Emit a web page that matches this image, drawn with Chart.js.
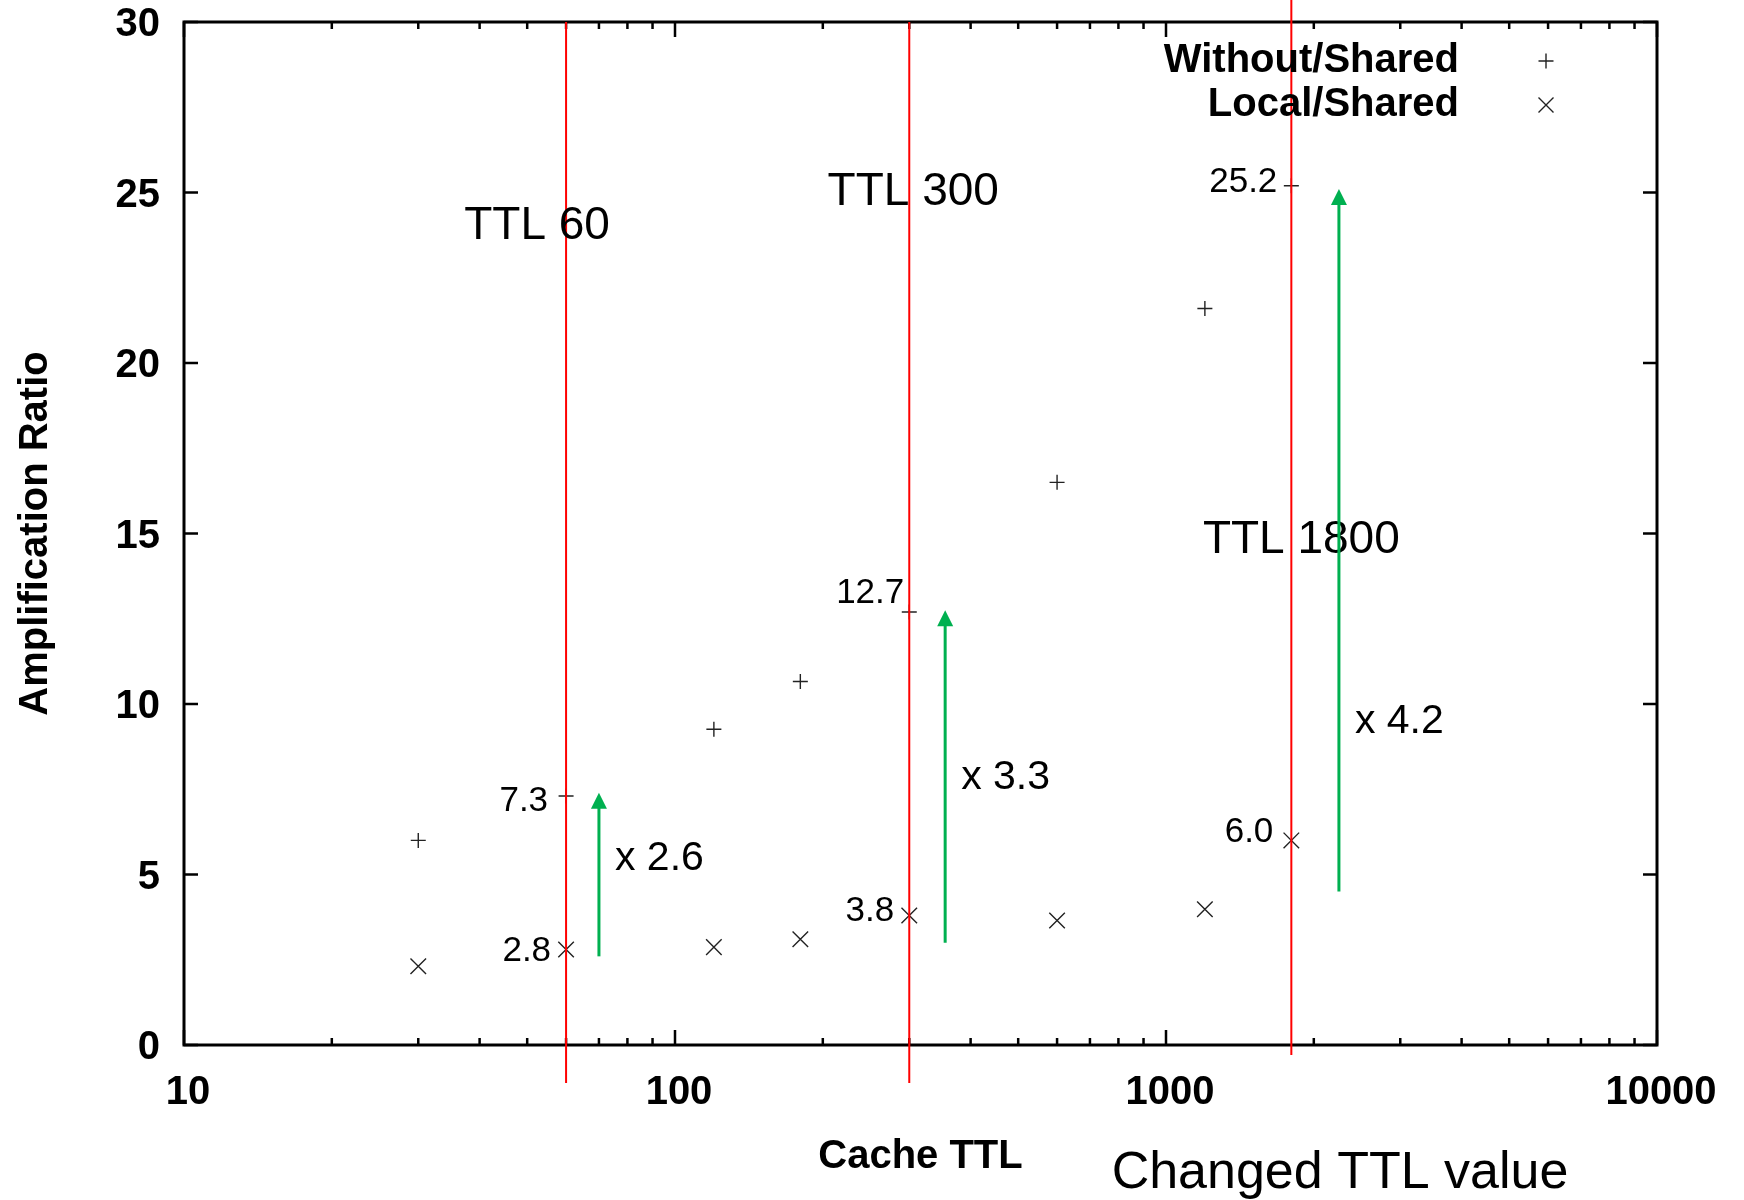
<!DOCTYPE html>
<html>
<head>
<meta charset="utf-8">
<title>Amplification Ratio vs Cache TTL</title>
<script src="https://cdn.jsdelivr.net/npm/chart.js@4.4.1/dist/chart.umd.min.js"></script>
<style>
  html, body { margin: 0; padding: 0; background: #fff; }
  #chart { display: block; }
</style>
</head>
<body>
<canvas id="chart" width="1744" height="1200"></canvas>
<script>
// Measured cache TTLs (seconds) and amplification ratios
const ttlValues = [30, 60, 120, 180, 300, 600, 1200, 1800];
const withoutShared = [6.0, 7.3, 9.26, 10.66, 12.7, 16.5, 21.6, 25.2];
const localShared = [2.31, 2.8, 2.87, 3.1, 3.8, 3.65, 3.98, 6.0];

// Axis ticks
const xTickValues = [10, 100, 1000, 10000];
const yTickValues = [0, 5, 10, 15, 20, 25, 30];

// TTL settings that were changed (red markers), with their labels
const changedTtls = [60, 300, 1800];
const changedLabels = ['TTL 60', 'TTL 300', 'TTL 1800'];
const changedLabelY = [24.0, 25.0, 14.8];

// Indices of points that get a value label
const labelledIdx = [1, 4, 7];

// Green arrows: x position and value range
const arrowX = [70, 355, 2250];
const arrowFrom = [2.6, 3.0, 4.5];
const arrowTo = [7.4, 12.75, 25.1];
const ratioLabelY = [5.45, 7.83, 9.49];

const FONT = "'Liberation Sans', Arial, Helvetica, sans-serif";
function font(size, bold) {
  return (bold ? 'bold ' : '') + size + 'px ' + FONT;
}

// label offsets (px) from the marker, same order as labelledIdx
const withoutLabelOffset = [[-18, 5], [-5, -19], [-14, -3]];
const localLabelOffset = [[-15, 2], [-15, -4], [-18, -8]];
const ttlLabelOffset = [-29, 4, 10];

const overlay = {
  id: 'overlay',
  afterDraw(chart) {
    const { ctx, chartArea: a, scales: { x, y } } = chart;
    ctx.save();

    // frame
    ctx.strokeStyle = '#000';
    ctx.lineWidth = 3;
    ctx.strokeRect(a.left, a.top, a.right - a.left, a.bottom - a.top);

    // inward tick marks
    ctx.lineWidth = 2.5;
    ctx.beginPath();
    yTickValues.forEach(v => {
      const py = y.getPixelForValue(v);
      ctx.moveTo(a.left, py); ctx.lineTo(a.left + 14, py);
      ctx.moveTo(a.right, py); ctx.lineTo(a.right - 14, py);
    });
    for (let d = 10; d <= 10000; d *= 10) {
      for (let m = 1; m <= (d === 10000 ? 1 : 9); m++) {
        const px = x.getPixelForValue(d * m);
        const len = m === 1 ? 15 : 7;
        ctx.moveTo(px, a.bottom); ctx.lineTo(px, a.bottom - len);
        ctx.moveTo(px, a.top); ctx.lineTo(px, a.top + len);
      }
    }
    ctx.stroke();

    // changed-TTL markers
    ctx.strokeStyle = '#ff0000';
    ctx.lineWidth = 2;
    changedTtls.forEach((t, i) => {
      const px = x.getPixelForValue(t);
      const top = i === 2 ? 0 : a.top;
      const bottom = i === 2 ? a.bottom + 10 : a.bottom + 38;
      ctx.beginPath();
      ctx.moveTo(px, top);
      ctx.lineTo(px, bottom);
      ctx.stroke();
    });

    ctx.fillStyle = '#000';
    ctx.textBaseline = 'middle';
    ctx.font = font(46, false);
    ctx.textAlign = 'center';
    changedLabels.forEach((txt, i) => {
      const px = x.getPixelForValue(changedTtls[i]) + ttlLabelOffset[i];
      ctx.fillText(txt, px, y.getPixelForValue(changedLabelY[i]));
    });

    // green arrows with ratio labels
    const green = '#00b050';
    arrowX.forEach((v, i) => {
      const px = x.getPixelForValue(v);
      const y0 = y.getPixelForValue(arrowFrom[i]);
      const y1 = y.getPixelForValue(arrowTo[i]);
      ctx.strokeStyle = green;
      ctx.fillStyle = green;
      ctx.lineWidth = 3;
      ctx.beginPath();
      ctx.moveTo(px, y0);
      ctx.lineTo(px, y1 + 12);
      ctx.stroke();
      ctx.beginPath();
      ctx.moveTo(px, y1);
      ctx.lineTo(px - 8, y1 + 16);
      ctx.lineTo(px + 8, y1 + 16);
      ctx.closePath();
      ctx.fill();

      const k = labelledIdx[i];
      const ratio = (withoutShared[k] / localShared[k]).toFixed(1);
      ctx.fillStyle = '#000';
      ctx.textAlign = 'left';
      ctx.font = font(41, false);
      ctx.fillText('x ' + ratio, px + 16, y.getPixelForValue(ratioLabelY[i]));
    });

    // value labels next to points
    ctx.font = font(35, false);
    ctx.textAlign = 'right';
    labelledIdx.forEach((k, i) => {
      const px = x.getPixelForValue(ttlValues[k]);
      ctx.fillText(withoutShared[k].toFixed(1),
        px + withoutLabelOffset[i][0], y.getPixelForValue(withoutShared[k]) + withoutLabelOffset[i][1]);
      ctx.fillText(localShared[k].toFixed(1),
        px + localLabelOffset[i][0], y.getPixelForValue(localShared[k]) + localLabelOffset[i][1]);
    });

    // legend
    ctx.font = font(40, true);
    ctx.textAlign = 'right';
    chart.data.datasets.forEach((ds, i) => {
      const ly = 61 + i * 44;
      ctx.fillStyle = '#000';
      ctx.fillText(ds.label, 1459, ly);
      ctx.strokeStyle = ds.borderColor;
      ctx.lineWidth = ds.borderWidth;
      ctx.beginPath();
      const mx = 1546;
      if (ds.pointStyle === 'cross') {
        ctx.moveTo(mx - 7.5, ly); ctx.lineTo(mx + 7.5, ly);
        ctx.moveTo(mx, ly - 7.5); ctx.lineTo(mx, ly + 7.5);
      } else {
        ctx.moveTo(mx - 7.5, ly - 7.5); ctx.lineTo(mx + 7.5, ly + 7.5);
        ctx.moveTo(mx + 7.5, ly - 7.5); ctx.lineTo(mx - 7.5, ly + 7.5);
      }
      ctx.stroke();
    });

    // secondary x caption
    ctx.fillStyle = '#000';
    ctx.textAlign = 'center';
    ctx.font = font(52, false);
    ctx.fillText('Changed TTL value', 1340, 1174);

    ctx.restore();
  }
};

new Chart(document.getElementById('chart'), {
  type: 'scatter',
  data: {
    datasets: [
      {
        label: 'Without/Shared',
        data: ttlValues.map((t, i) => ({ x: t, y: withoutShared[i] })),
        pointStyle: 'cross',
        pointRadius: 7.5,
        borderColor: '#222',
        borderWidth: 1.4,
        showLine: false
      },
      {
        label: 'Local/Shared',
        data: ttlValues.map((t, i) => ({ x: t, y: localShared[i] })),
        pointStyle: 'crossRot',
        pointRadius: 11,
        borderColor: '#222',
        borderWidth: 1.4,
        showLine: false
      }
    ]
  },
  options: {
    responsive: false,
    animation: false,
    events: [],
    layout: { padding: { left: 0, top: 22, right: 87, bottom: 0 } },
    scales: {
      x: {
        type: 'logarithmic',
        min: 10,
        max: 10000,
        afterBuildTicks: scale => { scale.ticks = xTickValues.map(v => ({ value: v })); },
        afterFit: scale => { scale.height = 155; },
        grid: { display: false, drawTicks: false },
        border: { display: false },
        ticks: {
          autoSkip: false,
          maxRotation: 0,
          padding: 24,
          labelOffset: 4,
          color: '#000',
          font: { family: FONT, size: 40, weight: 'bold' },
          callback: v => String(v)
        },
        title: {
          display: true,
          text: 'Cache TTL',
          color: '#000',
          font: { family: FONT, size: 40, weight: 'bold' },
          padding: { top: 0, bottom: 19 }
        }
      },
      y: {
        min: 0,
        max: 30,
        afterBuildTicks: scale => { scale.ticks = yTickValues.map(v => ({ value: v })); },
        afterFit: scale => {
          scale.width = 184;
          scale.paddingTop = 0;
          scale.paddingBottom = 0;
        },
        grid: { display: false, drawTicks: false },
        border: { display: false },
        ticks: {
          padding: 24,
          labelOffset: 3,
          color: '#000',
          font: { family: FONT, size: 40, weight: 'bold' }
        },
        title: {
          display: true,
          text: 'Amplification Ratio',
          color: '#000',
          font: { family: FONT, size: 40, weight: 'bold' },
          padding: { top: 12, bottom: 0 }
        }
      }
    },
    plugins: {
      legend: { display: false },
      tooltip: { enabled: false }
    }
  },
  plugins: [overlay]
});
</script>
</body>
</html>
